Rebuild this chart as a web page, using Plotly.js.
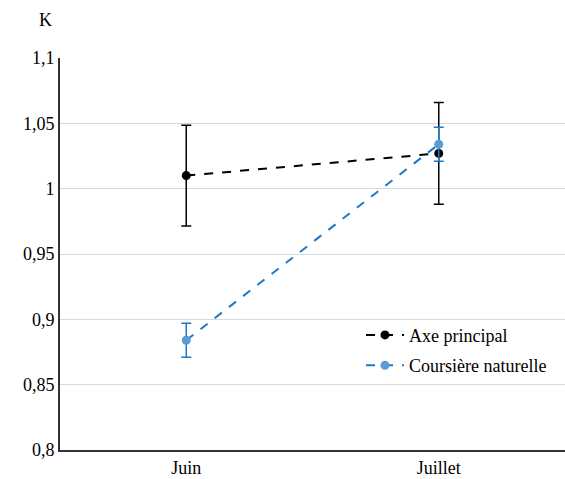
<!DOCTYPE html>
<html>
<head>
<meta charset="utf-8">
<script src="https://cdn.plot.ly/plotly-3.0.1.min.js"></script>
<style>html,body{margin:0;padding:0;background:#fff;}#chart{width:565px;height:479px;}</style>
</head>
<body>
<div id="chart"></div>
<script>
const months = ["Juin", "Juillet"];
const axePrincipal = [1.010, 1.027];
const axePrincipalErr = [0.0385, 0.039];
const coursiere = [0.884, 1.034];
const coursiereErr = [0.013, 0.013];
const yTickVals = [0.8, 0.85, 0.9, 0.95, 1, 1.05, 1.1];
const yTickText = ["0,8", "0,85", "0,9", "0,95", "1", "1,05", "1,1"];

function mkFont() { return {family: "Liberation Serif", size: 18, color: "#000000"}; }

const traces = [
  {
    x: months, y: axePrincipal, name: "Axe principal", type: "scatter", mode: "lines+markers",
    legendgroup: "a",
    line: {color: "#000000", width: 2, dash: "dash"},
    marker: {color: "#000000", size: 9},
    error_y: {type: "data", array: axePrincipalErr, visible: true, color: "#000000", thickness: 1.5, width: 5}
  },
  {
    x: months, y: coursiere, name: "Coursière naturelle", type: "scatter", mode: "lines+markers",
    legendgroup: "b",
    line: {color: "#1E78C8", width: 2, dash: "dash"},
    marker: {color: "#5B9BD5", size: 9},
    error_y: {type: "data", array: coursiereErr, visible: true, color: "#1E78C8", thickness: 1.5, width: 5}
  }
];

const layout = {
  width: 565, height: 479,
  margin: {l: 60, r: 0, t: 58, b: 29},
  paper_bgcolor: "#ffffff", plot_bgcolor: "#ffffff",
  font: mkFont(),
  showlegend: true,
  legend: {x: 0.596, y: 0.34, xanchor: "left", yanchor: "top", bgcolor: "rgba(0,0,0,0)",
           traceorder: "grouped", tracegroupgap: 4, itemwidth: 38, font: mkFont()},
  xaxis: {
    type: "category", range: [-0.5, 1.5], showgrid: false, zeroline: false,
    showline: true, linecolor: "#333333", linewidth: 2, ticks: "", tickfont: mkFont()
  },
  yaxis: {
    range: [0.8, 1.1], tickmode: "array", tickvals: yTickVals, ticktext: yTickText,
    showgrid: true, gridcolor: "#d9d9d9", gridwidth: 1, zeroline: false,
    showline: true, linecolor: "#333333", linewidth: 2, ticks: "", tickfont: mkFont()
  },
  annotations: [
    {text: "K", xref: "paper", yref: "paper", x: -0.028, y: 1.097, xanchor: "center", yanchor: "middle", showarrow: false,
     font: mkFont()}
  ]
};

Plotly.newPlot("chart", traces, layout, {displayModeBar: false, staticPlot: true});
</script>
</body>
</html>
